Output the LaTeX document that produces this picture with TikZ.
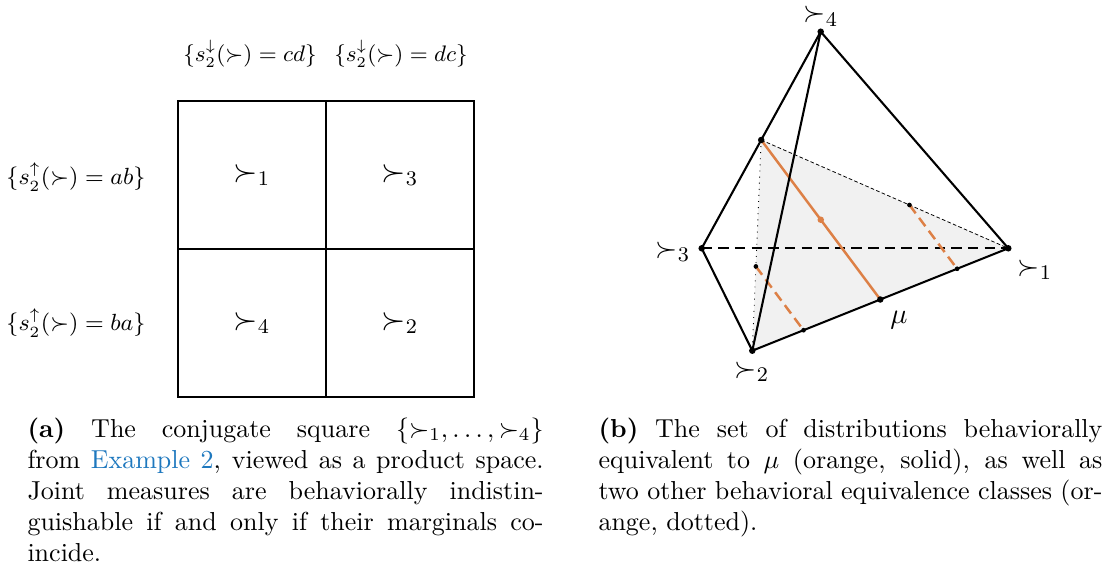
\documentclass[tikz,border=0pt]{standalone}
\usetikzlibrary{calc}
\definecolor{orng}{RGB}{221,128,70}
\definecolor{shadegray}{RGB}{241,241,241}
\definecolor{linkblue}{RGB}{30,120,190}
\begin{document}
\begin{tikzpicture}[x=0.3846pt,y=-0.3846pt,
  captext/.style={inner sep=0pt, anchor=base west, font=\normalsize, align=justify},
  cellfont/.style={font=\large, inner sep=1pt},
  tetfont/.style={font=\fontsize{10.95}{13}\selectfont, inner sep=1pt},
  setlabel/.style={font=\small, inner sep=1pt},
  outerline/.style={line width=0.9pt},
  innerline/.style={line width=0.55pt},
  tedge/.style={line width=0.8pt},
  backedge/.style={line width=0.8pt, dash pattern=on 4pt off 2.4pt},
  orangesolid/.style={orng, line width=0.95pt},
  orangedash/.style={orng, line width=0.95pt, dash pattern=on 4pt off 2.2pt},
  thindash/.style={line width=0.3pt, dash pattern=on 1.4pt off 0.9pt},
  thindot/.style={line width=0.35pt, dotted},
  bigdot/.style={circle, fill=black, inner sep=0pt, minimum size=2.5pt},
  smalldot/.style={circle, fill=black, inner sep=0pt, minimum size=1.8pt},
]
\useasboundingbox (0,0) rectangle (1107,573);

% ---------- (a) square ----------
\coordinate (sqTL) at (178,101);
\coordinate (sqBR) at (474,397);
\coordinate (sqTM) at (326,101);
\coordinate (sqBM) at (326,397);
\coordinate (sqLM) at (178,249);
\coordinate (sqRM) at (474,249);
\draw[innerline] (sqTM) -- (sqBM);
\draw[innerline] (sqLM) -- (sqRM);
\draw[outerline] (sqTL) rectangle (sqBR);

\node[cellfont] (c1) at (252,175) {$\succ_1$};
\node[cellfont] (c3) at (400,175) {$\succ_3$};
\node[cellfont] (c4) at (252,323) {$\succ_4$};
\node[cellfont] (c2) at (400,323) {$\succ_2$};

\node[setlabel, scale=0.96] (top1) at (250,54) {$\{s_2^{\downarrow}(\succ)=cd\}$};
\node[setlabel, scale=0.96] (top2) at (401,54) {$\{s_2^{\downarrow}(\succ)=dc\}$};
\node[setlabel] (left1) at (76,177) {$\{s_2^{\uparrow}(\succ)=ab\}$};
\node[setlabel] (left2) at (76,323) {$\{s_2^{\uparrow}(\succ)=ba\}$};

% ---------- (b) tetrahedron ----------
\coordinate (V4) at (820.7,31.7);
\coordinate (V3) at (701.7,248.3);
\coordinate (V1) at (1008.3,248.3);
\coordinate (V2) at (752.3,350.7);
\coordinate (M) at ($(V3)!0.5!(V4)$);
\coordinate (MU) at ($(V2)!0.5!(V1)$);
\coordinate (C) at ($(M)!0.5!(MU)$);
\coordinate (A1) at ($(M)!0.6!(V1)$);
\coordinate (B1) at ($(V2)!0.8!(V1)$);
\coordinate (A2) at ($(M)!0.6!(V2)$);
\coordinate (B2) at ($(V2)!0.2!(V1)$);

\fill[shadegray] (M) -- (V1) -- (V2) -- cycle;
\draw[thindash] (M) -- (V1);
\draw[thindot] (M) -- (V2);
\draw[backedge] (V3) -- (V1);
\draw[orangesolid] (M) -- (MU);
\draw[orangedash] (A1) -- (B1);
\draw[orangedash] (A2) -- (B2);
\draw[tedge, line join=round] (V3) -- (V4) -- (V1);
\draw[tedge, line join=round] (V3) -- (V2) -- (V1);
\draw[tedge] (V4) -- (V2);

\node[bigdot] at (V1) {};
\node[bigdot] at (V2) {};
\node[bigdot] at (V3) {};
\node[bigdot] at (V4) {};
\node[bigdot] at (M) {};
\node[bigdot] at (MU) {};
\node[circle, fill=orng, inner sep=0pt, minimum size=2.5pt] at (C) {};
\node[smalldot] at (A1) {};
\node[smalldot] at (B1) {};
\node[smalldot] at (A2) {};
\node[smalldot] at (B2) {};

\node[tetfont, anchor=base, inner sep=0pt] (L4) at (821,22) {$\succ_4$};
\node[tetfont] (L3) at (673,252) {$\succ_3$};
\node[tetfont] (L1) at (1035,270) {$\succ_1$};
\node[tetfont] (L2) at (752,372) {$\succ_2$};
\node[tetfont] (Lmu) at (899,320) {$\mu$};

% ---------- captions ----------
\node[captext, text width=198.5pt] (capa) at (27,437) {\textbf{(a)} The conjugate square $\{\succ_1,\dots,\succ_4\}$\linebreak from \textcolor{linkblue}{Example~2}, viewed as a product space.\linebreak Joint measures are behaviorally indistin-\linebreak guishable if and only if their marginals co-\linebreak incide.};
\node[captext, text width=193.8pt] (capb) at (598,437) {\textbf{(b)} The set of distributions behaviorally\linebreak equivalent to $\mu$ (orange, solid), as well as\linebreak two other behavioral equivalence classes (or-\linebreak ange, dotted).};
\end{tikzpicture}
\end{document}
